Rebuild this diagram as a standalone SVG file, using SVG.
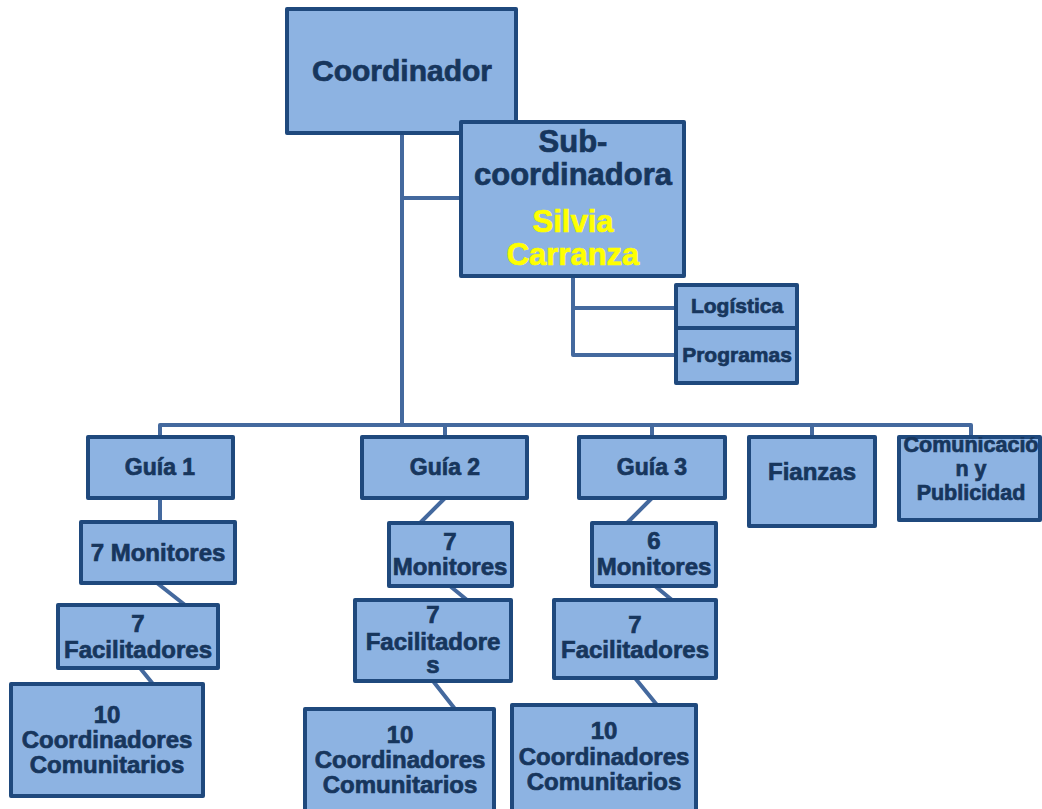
<svg xmlns="http://www.w3.org/2000/svg" width="1042" height="809" viewBox="0 0 1042 809">
<style>
.box{fill:#8DB3E2;stroke:#1F497D;stroke-width:4;stroke-linejoin:round}
.t{font-family:"Liberation Sans",Arial,sans-serif;font-weight:bold;fill:#17365D;stroke:#17365D;stroke-width:0.7;text-anchor:middle}
.y{fill:#FFFF00;stroke:#FFFF00}
.c{fill:none;stroke:#44699E;stroke-width:4;stroke-linecap:round;stroke-linejoin:round}
</style>
<defs>
<clipPath id="clipCom"><rect x="897" y="437" width="150" height="90"/></clipPath>
</defs>
<rect width="1042" height="809" fill="#ffffff"/>
<g id="connectors">
<path class="c" d="M402 133 V425 M402 198 H461"/>
<path class="c" d="M573 276 V355 H676 M573 308 H676"/>
<path class="c" d="M160 437 V425 H971 V437 M445 425 V437 M652 425 V437 M812 425 V437"/>
<path class="c" d="M160 498 V522"/>
<path class="c" d="M445 498 L420 523"/>
<path class="c" d="M652 498 L627 523"/>
<path class="c" d="M157 583 L185 605"/>
<path class="c" d="M450 586 L467 600"/>
<path class="c" d="M655 586 L672 600"/>
<path class="c" d="M140 668 L153 684"/>
<path class="c" d="M433 681 L455 709"/>
<path class="c" d="M635 678 L657 705"/>
</g>
<g id="coordinador">
<rect class="box" x="287" y="9" width="229" height="124"/>
<text class="t" x="402" y="81" font-size="30">Coordinador</text>
</g>
<g id="subcoordinadora">
<rect class="box" x="461" y="122" width="223" height="154"/>
<text class="t" x="573" y="152" font-size="31">Sub-</text>
<text class="t" x="573" y="185" font-size="31">coordinadora</text>
<text class="t y" x="573" y="232" font-size="31">Silvia</text>
<text class="t y" x="573" y="265" font-size="31">Carranza</text>
</g>
<g id="logistica">
<rect class="box" x="676" y="285" width="121" height="43"/>
<text class="t" x="737" y="313" font-size="21">Logística</text>
</g>
<g id="programas">
<rect class="box" x="676" y="328" width="121" height="55"/>
<text class="t" x="737" y="362" font-size="21">Programas</text>
</g>
<g id="guia1">
<rect class="box" x="88" y="437" width="145" height="61"/>
<text class="t" x="160" y="475" font-size="23">Guía 1</text>
</g>
<g id="guia2">
<rect class="box" x="362" y="437" width="165" height="61"/>
<text class="t" x="445" y="475" font-size="23">Guía 2</text>
</g>
<g id="guia3">
<rect class="box" x="579" y="437" width="146" height="61"/>
<text class="t" x="652" y="475" font-size="23">Guía 3</text>
</g>
<g id="fianzas">
<rect class="box" x="749" y="437" width="126" height="89"/>
<text class="t" x="812" y="480" font-size="24">Fianzas</text>
</g>
<g id="comunicacion">
<rect class="box" x="899" y="437" width="141" height="83"/>
<g clip-path="url(#clipCom)">
<text class="t" x="971" y="452" font-size="21.5">Comunicació</text>
</g>
<text class="t" x="971" y="476" font-size="21.5">n y</text>
<text class="t" x="971" y="500" font-size="21.5">Publicidad</text>
</g>
<g id="monitores1">
<rect class="box" x="81" y="522" width="154" height="61"/>
<text class="t" x="158" y="561" font-size="24">7 Monitores</text>
</g>
<g id="monitores2">
<rect class="box" x="389" y="523" width="123" height="63"/>
<text class="t" x="450" y="550" font-size="24">7</text>
<text class="t" x="450" y="575" font-size="24">Monitores</text>
</g>
<g id="monitores3">
<rect class="box" x="592" y="523" width="124" height="63"/>
<text class="t" x="654" y="549" font-size="24">6</text>
<text class="t" x="654" y="575" font-size="24">Monitores</text>
</g>
<g id="facilitadores1">
<rect class="box" x="58" y="605" width="160" height="63"/>
<text class="t" x="138" y="632" font-size="24">7</text>
<text class="t" x="138" y="658" font-size="24">Facilitadores</text>
</g>
<g id="facilitadores2">
<rect class="box" x="355" y="600" width="156" height="81"/>
<text class="t" x="433" y="623" font-size="24">7</text>
<text class="t" x="433" y="650" font-size="24">Facilitadore</text>
<text class="t" x="433" y="673" font-size="24">s</text>
</g>
<g id="facilitadores3">
<rect class="box" x="554" y="600" width="162" height="78"/>
<text class="t" x="635" y="633" font-size="24">7</text>
<text class="t" x="635" y="658" font-size="24">Facilitadores</text>
</g>
<g id="coordinadores1">
<rect class="box" x="11" y="684" width="192" height="112"/>
<text class="t" x="107" y="723" font-size="24">10</text>
<text class="t" x="107" y="748" font-size="24">Coordinadores</text>
<text class="t" x="107" y="773" font-size="24">Comunitarios</text>
</g>
<g id="coordinadores2">
<rect class="box" x="305" y="709" width="189" height="105"/>
<text class="t" x="400" y="743" font-size="24">10</text>
<text class="t" x="400" y="768" font-size="24">Coordinadores</text>
<text class="t" x="400" y="793" font-size="24">Comunitarios</text>
</g>
<g id="coordinadores3">
<rect class="box" x="512" y="705" width="184" height="109"/>
<text class="t" x="604" y="739" font-size="24">10</text>
<text class="t" x="604" y="765" font-size="24">Coordinadores</text>
<text class="t" x="604" y="790" font-size="24">Comunitarios</text>
</g>
</svg>
